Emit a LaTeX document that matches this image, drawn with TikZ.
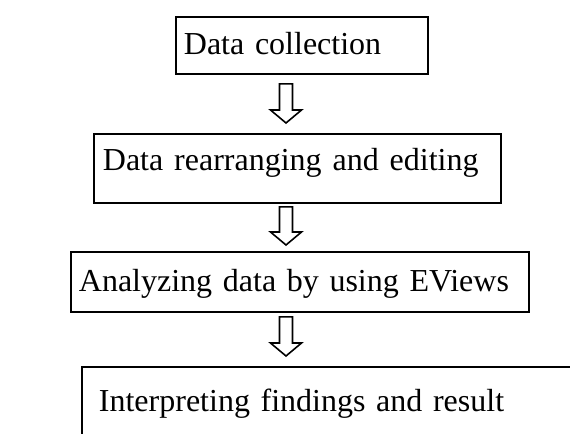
\documentclass[tikz,border=0pt]{standalone}
\usepackage{fontspec}
\setmainfont{Liberation Serif}
\usetikzlibrary{calc}

\begin{document}
\begin{tikzpicture}[x=0.375pt, y=-0.375pt, font=\fontsize{12}{14}\selectfont,
			caja/.style={draw, line width=0.7pt, anchor=north west, align=left, inner ysep=0pt,
			             text height=0.68em, text depth=0pt},
			hueca/.style={draw, line width=0.6pt, line join=miter}]
			\useasboundingbox (0,0) rectangle (570,434);
			\clip (0,0) rectangle (570,434);
			\coordinate (eje) at (286,0);
			\node[caja, text width=88.5pt, inner xsep=3pt, minimum height=21.375pt] (collect) at (175,16)
				{Data collection};
			\node[caja, text width=145.875pt, inner xsep=3.375pt, minimum height=25.875pt, text depth=0.52em] (edit) at (93,133)
				{\spaceskip=0.34em Data rearranging and editing};
			\node[caja, text width=165.75pt, inner xsep=3pt, minimum height=22.5pt] (analyze) at (70,251)
				{Analyzing data by using EViews};
			\node[caja, text width=182.25pt, inner xsep=6.375pt, minimum height=48.75pt, text depth=2.2em] (interpret) at (81,366)
				{Interpreting findings and result};
			\foreach \desde/\hasta/\arriba/\abajo in {collect/edit/9/10, edit/analyze/3/6, analyze/interpret/4/10}{
				\coordinate (cola) at ($(eje |- \desde.south)+(0,\arriba)$);
				\coordinate (punta) at ($(eje |- \hasta.north)+(0,-\abajo)$);
				\draw[hueca] ($(cola)+(-6.5,0)$) -- ($(punta)+(-6.5,-13)$) -- ($(punta)+(-15.5,-13)$) -- (punta)
					-- ($(punta)+(15.5,-13)$) -- ($(punta)+(6.5,-13)$) -- ($(cola)+(6.5,0)$) -- cycle;
			}
		\end{tikzpicture}
\end{document}
